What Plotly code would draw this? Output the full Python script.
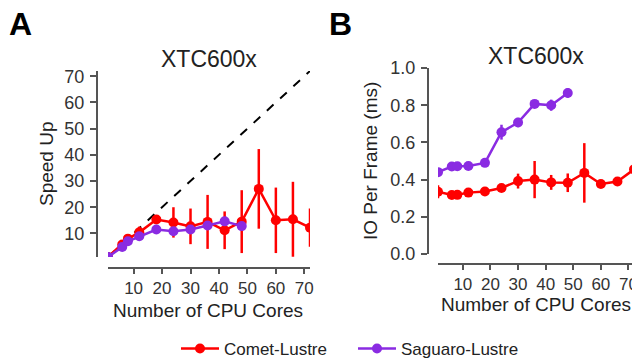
import plotly.graph_objects as go

cores = [1, 6, 8, 12, 18, 24, 30, 36, 42, 48, 54, 60, 66, 72]
cores_sag = [1, 6, 8, 12, 18, 24, 30, 36, 42, 48]

comet_speedup = [1.0, 5.8, 8.0, 10.4, 15.3, 14.2, 12.7, 14.4, 11.2, 14.5, 27.0, 15.0, 15.4, 12.2]
comet_speedup_err = [0.1, 0.8, 0.8, 2.2, 1.2, 5.8, 6.8, 10.3, 7.2, 12.0, 15.2, 12.5, 14.3, 7.3]
sag_speedup = [1.0, 4.8, 7.0, 8.9, 11.5, 10.8, 11.5, 13.0, 14.6, 12.8]
sag_speedup_err = [0.1, 0.5, 0.6, 0.6, 0.8, 0.8, 0.8, 0.8, 1.0, 0.8]

comet_io = [0.335, 0.317, 0.318, 0.330, 0.336, 0.355, 0.392, 0.400, 0.385, 0.383, 0.436, 0.376, 0.390, 0.455]
comet_io_err = [0.035, 0.01, 0.01, 0.01, 0.01, 0.012, 0.04, 0.10, 0.04, 0.05, 0.16, 0.01, 0.01, 0.09]
sag_io = [0.440, 0.470, 0.472, 0.473, 0.490, 0.655, 0.707, 0.807, 0.800, 0.866]
sag_io_err = [0.01, 0.01, 0.01, 0.01, 0.01, 0.04, 0.025, 0.01, 0.03, 0.025]

ideal = [1, 72]

RED = '#ff0000'
PURPLE = '#8a2be2'
AXC = '#555555'
FONT = 'Arial, Liberation Sans, sans-serif'
# the page body has an 8px margin, so the figure is shifted by 8px and
# all layout positions below are given in window pixels
OFF = 8
W, H = 640 - OFF, 362 - OFF

fig = go.Figure()

def add_series(x, y, err, color, name, xa, ya, show):
    fig.add_trace(go.Scatter(
        x=x, y=y, mode='lines+markers', name=name, legendgroup=name, showlegend=show,
        line=dict(color=color, width=2.5), marker=dict(color=color, size=10),
        error_y=dict(type='data', array=err, color=color, thickness=2.5, width=0),
        xaxis=xa, yaxis=ya))

fig.add_trace(go.Scatter(x=ideal, y=ideal, mode='lines', showlegend=False,
                         line=dict(color='black', width=2, dash='dash'), xaxis='x', yaxis='y'))
add_series(cores, comet_speedup, comet_speedup_err, RED, 'Comet-Lustre', 'x', 'y', True)
add_series(cores_sag, sag_speedup, sag_speedup_err, PURPLE, 'Saguaro-Lustre', 'x', 'y', True)
add_series(cores, comet_io, comet_io_err, RED, 'Comet-Lustre', 'x2', 'y2', False)
add_series(cores_sag, sag_io, sag_io_err, PURPLE, 'Saguaro-Lustre', 'x2', 'y2', False)

def px(v):
    return (v - OFF) / W

def py(v):
    return 1 - (v - OFF) / H

ax_common = dict(showline=True, linecolor=AXC, linewidth=2, ticks='outside', tickcolor=AXC,
                 tickwidth=2, showgrid=False, zeroline=False, automargin=False,
                 ticklabeloverflow='allow')
x_common = dict(ax_common, ticklen=5, tickfont=dict(family=FONT, size=17, color='#333333'))
y_common = dict(ax_common, ticklen=6, ticklabelstandoff=2,
                tickfont=dict(family=FONT, size=18, color='#333333'))

fig.update_layout(
    template='none',
    width=W, height=H, margin=dict(l=0, r=0, t=0, b=0, autoexpand=False),
    plot_bgcolor='white', paper_bgcolor='white',
    font=dict(family=FONT, color='#222222'),
    xaxis=dict(domain=[px(108), px(310)], range=[1, 72], tickvals=[10, 20, 30, 40, 50, 60, 70],
               anchor='free', position=py(268), **x_common),
    yaxis=dict(domain=[py(257), py(71)], range=[1, 72], tickvals=[10, 20, 30, 40, 50, 60, 70],
               anchor='free', position=px(97), **y_common),
    xaxis2=dict(domain=[px(438), px(634)], range=[1, 72], tickvals=[10, 20, 30, 40, 50, 60, 70],
                anchor='free', position=py(264), **x_common),
    yaxis2=dict(domain=[py(254), py(68)], range=[0, 1], tickvals=[0, 0.2, 0.4, 0.6, 0.8, 1.0],
                tickformat='.1f', anchor='free', position=px(428), **y_common),
    legend=dict(orientation='h', x=px(176), xanchor='left', y=py(349), yanchor='middle',
                font=dict(family=FONT, size=17, color='#222222'), itemwidth=38,
                entrywidth=124, bgcolor='rgba(0,0,0,0)'),
    showlegend=True,
)

def note(text, x, y, size=19, angle=0, bold=False):
    fig.add_annotation(text=f'<b>{text}</b>' if bold else text, x=px(x), y=py(y),
                       xref='paper', yref='paper', showarrow=False, textangle=angle,
                       xanchor='center', yanchor='middle',
                       font=dict(family=FONT, size=size, color='black' if bold else '#222222'))

note('A', 20, 24, size=32, bold=True)
note('B', 340, 24, size=32, bold=True)
note('XTC600x', 209, 59, size=23)
note('XTC600x', 536, 56, size=23)
note('Speed Up', 47, 164, angle=-90)
note('IO Per Frame (ms)', 371, 161, angle=-90)
note('Number of CPU Cores', 208, 310)
note('Number of CPU Cores', 536, 304)

fig.write_html('out.html')
